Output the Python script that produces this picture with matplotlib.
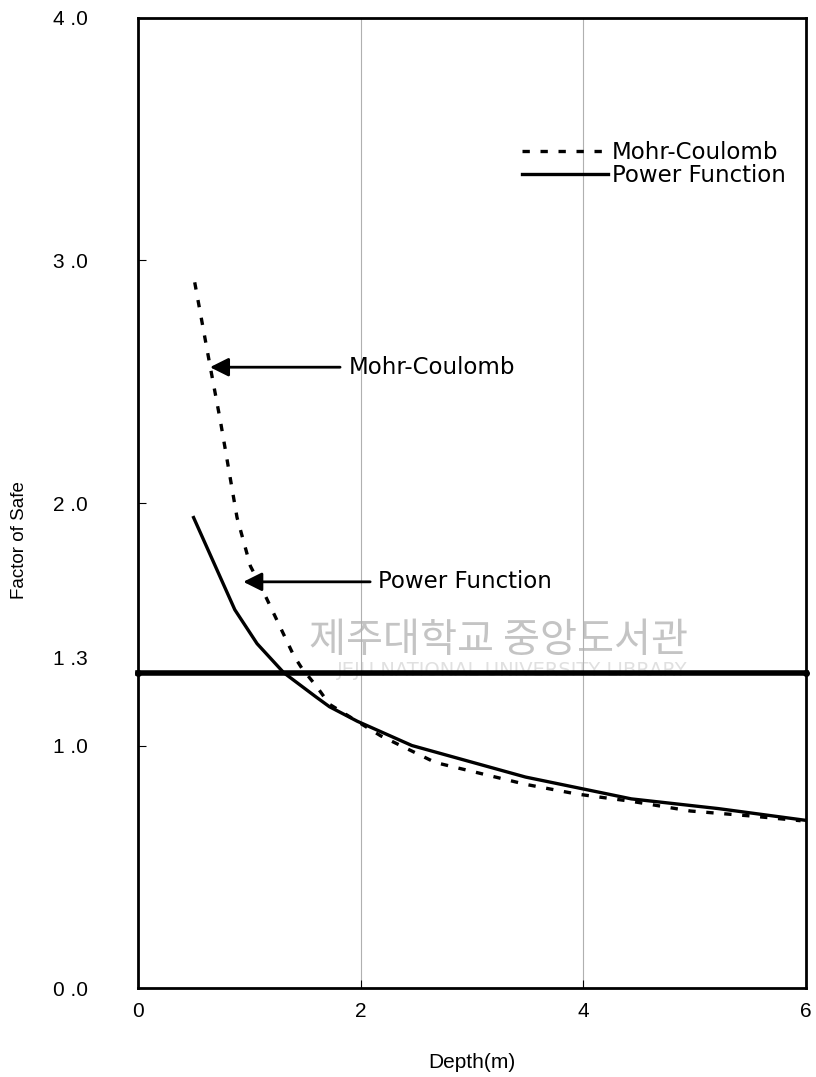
import matplotlib
matplotlib.use("Agg")
import matplotlib.pyplot as plt
import matplotlib.transforms as mtransforms

# values
depth_power = [0.50, 0.87, 1.07, 1.31, 1.60, 1.72, 1.97, 2.46, 3.48, 4.43, 5.21, 6.02]
fs_power = [1.94, 1.56, 1.42, 1.30, 1.20, 1.16, 1.10, 1.00, 0.87, 0.78, 0.74, 0.69]

depth_mohr = [0.51, 0.65, 0.74, 0.83, 0.89, 1.01, 1.10, 1.40, 1.47, 1.61, 1.72,
              2.18, 2.67, 3.48, 3.94, 4.43, 4.96, 5.49, 5.95]
fs_mohr = [2.91, 2.56, 2.34, 2.10, 1.94, 1.74, 1.66, 1.37, 1.32, 1.24, 1.17,
           1.04, 0.93, 0.84, 0.80, 0.77, 0.73, 0.71, 0.69]

fs_limit = 1.3
x_ticks = [0, 2, 4, 6]
y_ticks = [0.0, 1.0, 1.3, 2.0, 3.0, 4.0]
y_tick_labels = ["0 .0", "1 .0", "1 .3", "2 .0", "3 .0", "4 .0"]

plt.rcParams['font.family'] = ['Liberation Sans', 'DejaVu Sans']
WIDE = ['DejaVu Sans']

fig = plt.figure(figsize=(8.16, 10.77), dpi=100)
ax = fig.add_axes([0.169, 0.0826, 0.819, 0.9007])

# watermark
ax.text(0.54, 0.358, "제주대학교 중앙도서관", transform=ax.transAxes, ha='center', va='center',
        fontsize=29, color='#c4c4c4', family=['Noto Sans CJK KR'], zorder=0)
ax.text(0.56, 0.327, "JEJU NATIONAL UNIVERSITY LIBRARY", transform=ax.transAxes, ha='center',
        va='center', fontsize=14, color='#e0e0e0', family=WIDE, zorder=0)

ax.plot(depth_mohr, fs_mohr, color='black', lw=2.4, linestyle=(0, (2.2, 3.2)),
        label='Mohr-Coulomb', zorder=3)
ax.plot(depth_power, fs_power, color='black', lw=2.4, label='Power Function', zorder=3)
ax.plot([0, 6], [fs_limit, fs_limit], color='black', lw=4, marker='o', markersize=4,
        clip_on=False, zorder=4)

for xv in [2, 4]:
    ax.axvline(xv, color='#b0b0b0', lw=0.8, zorder=1)

ax.annotate("Mohr-Coulomb", xy=(0.647, 2.56), xytext=(1.89, 2.56), fontsize=16.5,
            va='center', ha='left', family=WIDE,
            arrowprops=dict(arrowstyle='-|>', color='black', lw=2, mutation_scale=28,
                            shrinkA=4, shrinkB=0))
ax.annotate("Power Function", xy=(0.946, 1.675), xytext=(2.16, 1.675), fontsize=16.5,
            va='center', ha='left', family=WIDE,
            arrowprops=dict(arrowstyle='-|>', color='black', lw=2, mutation_scale=28,
                            shrinkA=4, shrinkB=0))

ax.set_xlim(0, 6)
ax.set_ylim(0, 4)
ax.set_xticks(x_ticks)
ax.set_yticks(y_ticks)
ax.set_yticklabels(y_tick_labels)
ax.tick_params(axis='both', direction='in', length=6, width=0.8, labelsize=15)
ax.tick_params(axis='y', pad=36)
ax.tick_params(axis='x', pad=10)
for s in ax.spines.values():
    s.set_linewidth(2)

# the 1.3 label sits a little above its line in the reference
lab13 = ax.get_yticklabels()[2]
lab13.set_transform(lab13.get_transform() +
                    mtransforms.ScaledTranslation(0, 15 / 100, fig.dpi_scale_trans))

ax.set_xlabel("Depth(m)", fontsize=15, labelpad=23)
ax.set_ylabel("Factor of Safe", fontsize=13.5)
ax.yaxis.set_label_coords(-0.164, 0.462)

ax.legend(loc='center left', bbox_to_anchor=(0.558, 0.849), frameon=False,
          prop={'family': WIDE, 'size': 16.5},
          handlelength=3.75, handletextpad=0.15, labelspacing=0.0, borderpad=0)

plt.savefig("out.png", dpi=100)
